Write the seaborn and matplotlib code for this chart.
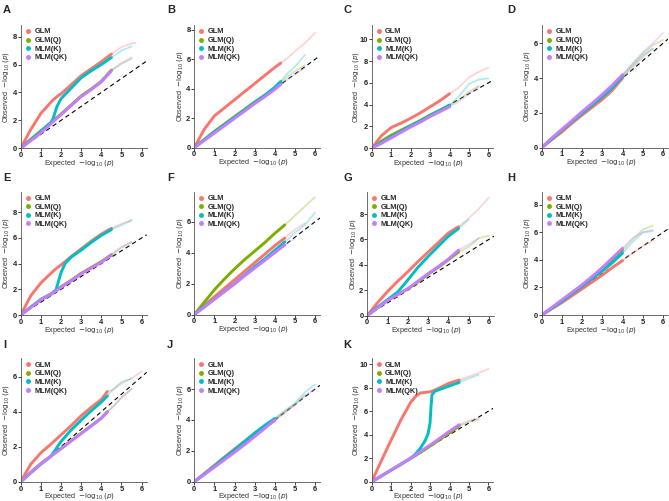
import matplotlib
matplotlib.use("Agg")
import matplotlib.pyplot as plt
from matplotlib.lines import Line2D
import seaborn as sns
import pandas as pd
import numpy as np

sns.set_theme(style="ticks")
plt.rcParams['font.family'] = ['Liberation Sans', 'DejaVu Sans']

methods = ["GLM", "GLM(Q)", "MLM(K)", "MLM(QK)"]
colors = ["#F8766D", "#7CAE00", "#00BFC4", "#C77CFF"]
panel_labels = list("ABCDEFGHIJK")

exp_A = [0, 0.5, 1, 1.5, 1.6, 1.8, 2, 2.5, 3, 3.5, 4, 4.5, 5, 5.5, 5.7]
obs_A = {"GLM":     [0, 1.35, 2.5, 3.3, 3.45, 3.7, 3.9, 4.55, 5.2, 5.7, 6.2, 6.75, 7.25, 7.5, 7.55],
         "GLM(Q)":  [0, 0.65, 1.25, 1.85, 1.97, 2.2, 2.45, 3.1, 3.75, 4.25, 4.8, 5.6, 6.1, 6.5, None],
         "MLM(K)":  [0, 0.6, 1.2, 1.85, 2.1, 3.0, 3.55, 4.3, 5.05, 5.55, 6.0, 6.5, 7.0, 7.3, None],
         "MLM(QK)": [0, 0.55, 1.1, 1.75, 1.9, 2.15, 2.4, 3.05, 3.7, 4.2, 4.75, 5.55, 6.05, 6.4, None]}

exp_B = [0, 0.5, 1, 1.5, 2, 2.5, 3, 3.5, 4, 4.3, 4.6, 5, 5.5, 6]
obs_B = {"GLM":     [0, 1.25, 2.15, 2.7, 3.25, 3.8, 4.35, 4.9, 5.45, 5.75, 6.05, 6.55, 7.1, 7.8],
         "GLM(Q)":  [0, 0.55, 1.1, 1.6, 2.1, 2.6, 3.1, 3.55, 4.05, 4.4, 4.8, 5.2, 5.6, None],
         "MLM(K)":  [0, 0.52, 1.05, 1.55, 2.05, 2.55, 3.05, 3.55, 4.1, 4.5, 5.0, 5.5, 6.3, None],
         "MLM(QK)": [0, 0.48, 0.98, 1.48, 1.98, 2.48, 2.98, 3.45, 3.95, 4.3, 4.6, 5.0, 5.4, None]}

exp_C = [0, 0.5, 1, 1.5, 2, 2.5, 3, 3.5, 4, 4.5, 5, 5.5, 6]
obs_C = {"GLM":     [0, 1.15, 1.9, 2.3, 2.75, 3.25, 3.8, 4.35, 5.0, 5.6, 6.5, 7.0, 7.4],
         "GLM(Q)":  [0, 0.65, 1.2, 1.65, 2.1, 2.55, 3.05, 3.5, 3.95, 4.45, 5.2, 5.7, None],
         "MLM(K)":  [0, 0.55, 1.05, 1.55, 2.05, 2.5, 3.0, 3.45, 3.95, 4.8, 5.9, 6.3, 6.4],
         "MLM(QK)": [0, 0.45, 0.95, 1.45, 1.95, 2.4, 2.9, 3.35, 3.8, 4.3, 5.0, 5.6, None]}

exp_D = [0, 0.5, 1, 1.5, 2, 2.5, 3, 3.5, 4, 4.5, 5, 5.5, 6]
obs_D = {"GLM":     [0, 0.45, 0.9, 1.4, 1.87, 2.32, 2.77, 3.3, 4.0, 4.6, 5.2, 5.7, None],
         "GLM(Q)":  [0, 0.5, 1.0, 1.5, 2.0, 2.45, 2.95, 3.5, 4.15, 4.8, 5.4, 5.9, 6.2],
         "MLM(K)":  [0, 0.5, 1.0, 1.5, 1.97, 2.45, 2.92, 3.45, 4.1, 4.7, 5.3, 5.7, None],
         "MLM(QK)": [0, 0.55, 1.05, 1.55, 2.07, 2.55, 3.06, 3.6, 4.2, 4.85, 5.5, 6.0, 6.6]}

exp_E = [0, 0.5, 1, 1.5, 1.75, 2, 2.2, 2.5, 3, 3.5, 4, 4.5, 5, 5.5]
obs_E = {"GLM":     [0, 1.5, 2.5, 3.25, 3.6, 3.9, 4.15, 4.55, 5.15, 5.75, 6.3, 6.75, 7.1, 7.4],
         "GLM(Q)":  [0, 0.62, 1.22, 1.65, 1.92, 2.2, 2.4, 2.7, 3.25, 3.7, 4.15, 4.7, 5.3, 5.7],
         "MLM(K)":  [0, 0.6, 1.2, 1.6, 1.95, 3.3, 4.0, 4.5, 5.05, 5.65, 6.2, 6.65, 7.0, 7.35],
         "MLM(QK)": [0, 0.58, 1.18, 1.62, 1.88, 2.15, 2.35, 2.65, 3.2, 3.65, 4.1, 4.65, 5.25, 5.65]}

exp_F = [0, 0.5, 1, 1.5, 2, 2.5, 3, 3.5, 4, 4.5, 5, 5.5, 6]
obs_F = {"GLM":     [0, 0.58, 1.15, 1.7, 2.25, 2.8, 3.35, 3.9, 4.45, 4.95, 5.5, 5.9, None],
         "GLM(Q)":  [0, 0.8, 1.6, 2.3, 2.95, 3.55, 4.1, 4.65, 5.25, 5.8, 6.4, 7.0, 7.6],
         "MLM(K)":  [0, 0.5, 1.0, 1.5, 2.0, 2.55, 3.1, 3.6, 4.15, 4.7, 5.3, 5.8, 6.6],
         "MLM(QK)": [0, 0.48, 0.98, 1.48, 1.98, 2.5, 3.0, 3.5, 4.0, 4.5, 4.9, None, None]}

exp_G = [0, 0.5, 1, 1.5, 2, 2.5, 3, 3.5, 4, 4.5, 5, 5.5, 6]
obs_G = {"GLM":     [0, 1.0, 1.9, 2.7, 3.45, 4.25, 5.0, 5.75, 6.5, 7.0, 7.65, 8.4, 9.3],
         "GLM(Q)":  [0, 0.6, 1.2, 1.65, 2.1, 2.65, 3.25, 3.8, 4.4, 5.0, 5.4, 6.1, 6.3],
         "MLM(K)":  [0, 0.65, 1.25, 1.85, 2.8, 3.8, 4.65, 5.45, 6.25, 6.85, 7.55, None, None],
         "MLM(QK)": [0, 0.58, 1.18, 1.65, 2.12, 2.7, 3.3, 3.85, 4.45, 5.15, 5.6, 6.1, None]}

exp_H = [0, 0.5, 1, 1.5, 2, 2.5, 3, 3.5, 4, 4.5, 5, 5.5, 6]
obs_H = {"GLM":     [0, 0.45, 0.9, 1.4, 1.9, 2.4, 2.9, 3.45, 3.95, 4.5, 5.0, 5.4, None],
         "GLM(Q)":  [0, 0.52, 1.05, 1.6, 2.15, 2.75, 3.35, 4.0, 4.7, 5.5, 6.2, 6.5, None],
         "MLM(K)":  [0, 0.5, 1.0, 1.55, 2.1, 2.65, 3.2, 3.8, 4.5, 5.3, 6.0, 6.1, None],
         "MLM(QK)": [0, 0.55, 1.1, 1.65, 2.2, 2.8, 3.45, 4.15, 4.85, 5.6, 6.0, 6.2, None]}

exp_I = [0, 0.5, 1, 1.5, 2, 2.5, 3, 3.5, 4, 4.3, 4.6, 5, 5.5, 6]
obs_I = {"GLM":     [0, 1.0, 1.65, 2.15, 2.67, 3.2, 3.77, 4.25, 4.7, 5.15, 5.25, 5.6, 5.9, 6.3],
         "GLM(Q)":  [0, 0.54, 1.04, 1.47, 1.9, 2.34, 2.77, 3.2, 3.64, 4.0, 4.32, 4.82, 5.3, None],
         "MLM(K)":  [0, 0.5, 1.0, 1.45, 2.3, 2.95, 3.52, 4.05, 4.55, 4.9, 5.3, 5.7, 5.9, None],
         "MLM(QK)": [0, 0.52, 1.02, 1.45, 1.88, 2.32, 2.75, 3.18, 3.62, 3.98, 4.3, 4.8, 5.3, None]}

exp_J = [0, 0.5, 1, 1.5, 2, 2.5, 3, 3.5, 4, 4.5, 5, 5.5, 6]
obs_J = {"GLM":     [0, 0.53, 1.06, 1.6, 2.12, 2.63, 3.14, 3.55, 3.96, 4.45, 5.0, None, None],
         "GLM(Q)":  [0, 0.5, 1.0, 1.52, 2.05, 2.55, 3.05, 3.55, 4.05, 4.55, 5.0, 5.6, None],
         "MLM(K)":  [0, 0.5, 1.0, 1.55, 2.05, 2.6, 3.15, 3.65, 4.1, 4.6, 5.1, 5.8, 6.3],
         "MLM(QK)": [0, 0.46, 0.94, 1.42, 1.9, 2.4, 2.92, 3.45, 4.0, 4.5, 4.95, 5.6, 6.0]}

exp_K = [0, 0.5, 1, 1.5, 2, 2.25, 2.5, 2.75, 2.9, 3.0, 3.05, 3.1, 3.25, 3.5, 4, 4.5, 5, 5.5, 6]
obs_K = {"GLM":     [0, 1.8, 3.55, 5.25, 6.75, 7.25, 7.55, 7.6, 7.62, 7.65, 7.67, 7.7, 7.8, 8.0, 8.4, 8.65, 8.95, 9.25, 9.6],
         "GLM(Q)":  [0, 0.48, 0.97, 1.47, 1.97, 2.22, 2.48, 2.75, 2.92, 3.03, 3.08, 3.13, 3.3, 3.6, 4.15, 4.75, 5.1, 5.3, None],
         "MLM(K)":  [0, 0.5, 1.0, 1.5, 2.0, 2.35, 2.85, 3.5, 4.1, 5.0, 6.4, 7.4, 7.7, 7.85, 8.15, 8.45, 8.8, 9.1, None],
         "MLM(QK)": [0, 0.5, 1.0, 1.5, 2.0, 2.27, 2.55, 2.85, 3.0, 3.12, 3.17, 3.22, 3.4, 3.7, 4.3, 4.85, 5.2, 5.4, None]}

exp_all = [exp_A, exp_B, exp_C, exp_D, exp_E, exp_F, exp_G, exp_H, exp_I, exp_J, exp_K]
obs_all = [obs_A, obs_B, obs_C, obs_D, obs_E, obs_F, obs_G, obs_H, obs_I, obs_J, obs_K]

# where points start to fade out
solid_end = [4.5, 4.3, 4.0, 4.0, 4.5, 4.7, 4.5, 4.0, 4.3, 4.0, 4.5]
y_max = [8.83, 8.34, 11.3, 7.06, 9.6, 7.95, 9.76, 8.96, 7.05, 8.0, 10.5]

# axes boxes in pixels (left, top, right, bottom)
boxes = [(20.7, 25, 146.7, 148.3), (194.3, 25, 320, 147.5), (371.7, 25, 493.3, 148.3), (541.7, 25, 668, 147.5),
         (20.7, 191.7, 146.7, 315), (194.3, 191.7, 320, 314.5), (367.3, 191.7, 494, 315.5), (541.7, 191.7, 668, 315),
         (20.7, 358.3, 146.7, 481.7), (194.3, 358.3, 320, 481.7), (371.7, 358.3, 493.3, 481.7)]
letter_pos = [(3, 10), (167, 10), (343, 10), (507, 10),
              (3, 178), (167, 178), (343, 178), (507, 178),
              (3, 345), (167, 345), (343, 345)]

W, H = 669, 501
fig = plt.figure(figsize=(W / 100, H / 100), dpi=100)

for i, lab in enumerate(panel_labels):
    rows = []
    for m in methods:
        for x, y in zip(exp_all[i], obs_all[i][m]):
            if y is not None:
                rows.append((m, x, y))
    df = pd.DataFrame(rows, columns=["method", "expected", "observed"])
    solid = df[df.expected <= solid_end[i] + 1e-9]
    # tail keeps the last solid point so it joins up
    tail_parts = []
    for m in methods:
        d = df[df.method == m]
        s = d[d.expected <= solid_end[i] + 1e-9]
        t = d[d.expected > solid_end[i] + 1e-9]
        if len(t):
            tail_parts.append(pd.concat([s.tail(1), t]))
    tail = pd.concat(tail_parts) if tail_parts else df.iloc[:0]

    l, t_, r, b = boxes[i]
    wpx, hpx = r - l, b - t_
    ax = fig.add_axes([l / W, 1 - b / H, wpx / W, hpx / H])
    ax.axline((0, 0), slope=1, color="black", lw=0.8, ls=(0, (4, 3)), zorder=1)
    sns.lineplot(data=tail, x="expected", y="observed", hue="method", hue_order=methods,
                 palette=colors, lw=1.3, alpha=0.3, estimator=None, sort=False, legend=False, ax=ax)
    sns.lineplot(data=solid, x="expected", y="observed", hue="method", hue_order=methods,
                 palette=colors, lw=2.1, estimator=None, sort=False, legend=False, ax=ax)
    ax.set_xlim(0, 6.25)
    ax.set_ylim(0, y_max[i])
    ax.set_xticks(range(0, 7))
    ax.set_yticks(np.arange(0, y_max[i], 2))
    ax.set_xlabel(r"Expected  $-\log_{10}(p)$", fontsize=5.2, color="#333333")
    ax.set_ylabel(r"Observed  $-\log_{10}(p)$", fontsize=5.2, color="#333333")
    ylab_off = 15.5 if y_max[i] > 10 else 14.5
    ax.xaxis.set_label_coords(0.47, -15 / hpx)
    ax.yaxis.set_label_coords(-ylab_off / wpx, 0.5)
    ax.xaxis.label.set_va("center")
    ax.yaxis.label.set_va("center")
    ax.tick_params(labelsize=5.4, length=2, width=0.6, pad=0.8, colors="#222222")
    for tl in ax.get_xticklabels() + ax.get_yticklabels():
        tl.set_fontweight("bold")
    for side in ["top", "right"]:
        ax.spines[side].set_visible(False)
    for side in ["left", "bottom"]:
        ax.spines[side].set_linewidth(0.6)
        ax.spines[side].set_color("#555555")
    handles = [Line2D([], [], marker="o", ls="", color=c, markersize=2.5) for c in colors]
    ax.legend(handles, methods, loc="upper left", bbox_to_anchor=(0.02, 0.985), frameon=False,
              prop={"size": 5.3, "weight": "bold"}, handlelength=0.8, handletextpad=0.5,
              labelspacing=0.2, borderpad=0.2, borderaxespad=0)
    fig.text(letter_pos[i][0] / W, 1 - letter_pos[i][1] / H, lab, fontsize=8, fontweight="bold",
             ha="left", va="center")

fig.savefig("out.png", dpi=100)
